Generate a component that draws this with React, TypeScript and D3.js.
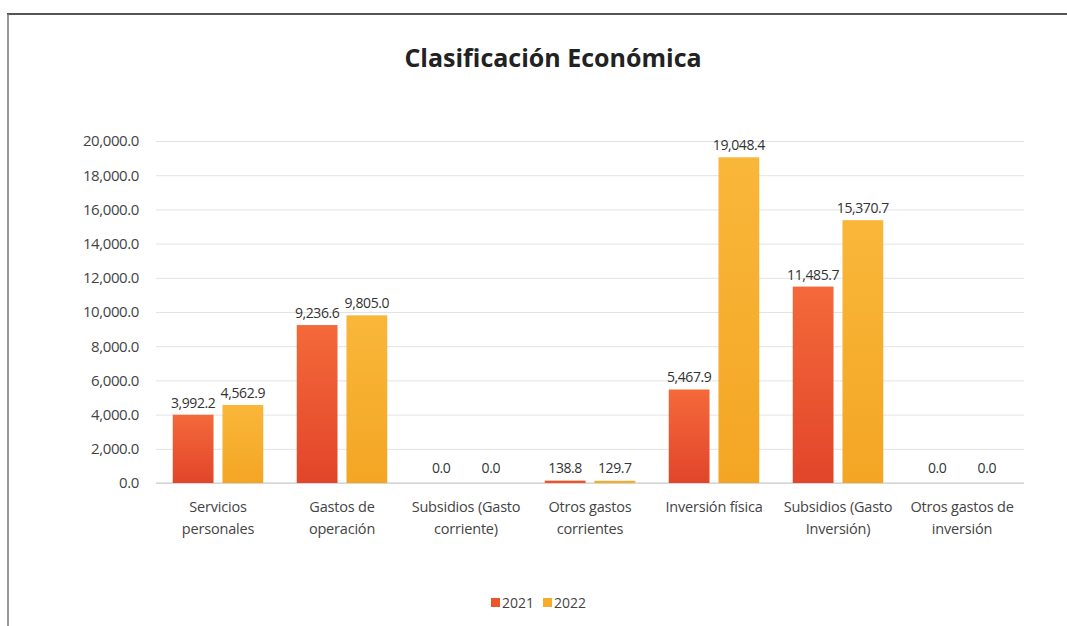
import { useEffect, useRef } from "react";
import * as d3 from "d3";

const WIDTH = 1067;
const HEIGHT = 626;
const MARGIN = { top: 141, right: 43, bottom: 143, left: 156 };
const INNER_W = WIDTH - MARGIN.left - MARGIN.right;
const INNER_H = HEIGHT - MARGIN.top - MARGIN.bottom;

const TITLE = "Clasificación Económica";
const CATEGORIES = [
  ["Servicios", "personales"],
  ["Gastos de", "operación"],
  ["Subsidios (Gasto", "corriente)"],
  ["Otros gastos", "corrientes"],
  ["Inversión física"],
  ["Subsidios (Gasto", "Inversión)"],
  ["Otros gastos de", "inversión"],
];
const SERIES = ["2021", "2022"];
const VALUES_2021 = [3992.2, 9236.6, 0, 138.8, 5467.9, 11485.7, 0];
const VALUES_2022 = [4562.9, 9805.0, 0, 129.7, 19048.4, 15370.7, 0];
const Y_TICKS = [0, 2000, 4000, 6000, 8000, 10000, 12000, 14000, 16000, 18000, 20000];
const COLORS = ["#ec552b", "#f7ad2c"];
const GRADIENTS = [
  ["#f4693a", "#e2452a"],
  ["#f9b73a", "#f4a524"],
];

const FONT = "'Open Sans', 'Noto Sans', sans-serif";

export default function App() {
  const svgRef = useRef<SVGSVGElement>(null);

  useEffect(() => {
    if (!svgRef.current) return;
    const svg = d3.select(svgRef.current);
    svg.selectAll("*").remove();

    const defs = svg.append("defs");
    GRADIENTS.forEach(([top, bottom], i) => {
      const lg = defs.append("linearGradient")
        .attr("id", `bar-grad-${i}`)
        .attr("x1", 0).attr("x2", 0).attr("y1", 0).attr("y2", 1);
      lg.append("stop").attr("offset", "0%").attr("stop-color", top);
      lg.append("stop").attr("offset", "100%").attr("stop-color", bottom);
    });

    svg.append("rect").attr("width", WIDTH).attr("height", HEIGHT).attr("fill", "#fff");

    // frame of the scanned chart
    svg.append("line")
      .attr("x1", 7).attr("x2", WIDTH).attr("y1", 14).attr("y2", 14)
      .attr("stroke", "#555").attr("stroke-width", 2);
    svg.append("line")
      .attr("x1", 8).attr("x2", 8).attr("y1", 14).attr("y2", HEIGHT)
      .attr("stroke", "#777").attr("stroke-width", 1.5);

    svg.append("text")
      .attr("x", 553).attr("y", 67)
      .attr("text-anchor", "middle")
      .attr("font-family", FONT)
      .attr("font-weight", 700)
      .attr("font-size", 25)
      .attr("fill", "#222")
      .text(TITLE);

    const data = CATEGORIES.map((c, i) => ({
      label: c,
      values: [VALUES_2021[i], VALUES_2022[i]],
    }));

    const x0 = d3.scaleBand<number>()
      .domain(d3.range(CATEGORIES.length))
      .range([0, INNER_W])
      .paddingInner(0.27)
      .paddingOuter(0.135);

    const x1 = d3.scaleBand<number>()
      .domain(d3.range(SERIES.length))
      .range([0, x0.bandwidth()])
      .paddingInner(0.18)
      .paddingOuter(0);

    const y = d3.scaleLinear().domain([0, 20000]).range([INNER_H, 0]);

    const g = svg.append("g").attr("transform", `translate(${MARGIN.left},${MARGIN.top})`);

    g.append("g")
      .call(d3.axisLeft(y).tickValues(Y_TICKS).tickSize(-INNER_W).tickFormat((d) => d3.format(",.1f")(d as number)))
      .call((a) => a.select(".domain").remove())
      .call((a) => a.selectAll(".tick line").attr("stroke", "#e3e3e3"))
      .call((a) => a.selectAll(".tick text")
        .attr("x", -17)
        .attr("fill", "#444")
        .attr("font-family", FONT)
        .attr("font-size", 15)
        .attr("letter-spacing", -0.4));

    g.append("line")
      .attr("x1", 0).attr("x2", INNER_W)
      .attr("y1", y(0)).attr("y2", y(0))
      .attr("stroke", "#c8c8c8");

    const grp = g.selectAll(".grp")
      .data(data)
      .join("g")
      .attr("transform", (_, i) => `translate(${x0(i)},0)`);

    grp.selectAll("rect")
      .data((d) => d.values)
      .join("rect")
      .attr("x", (_, j) => x1(j)!)
      .attr("width", x1.bandwidth())
      .attr("y", (v) => y(v))
      .attr("height", (v) => Math.max(INNER_H - y(v), v > 0 ? 1.5 : 0))
      .attr("fill", (v, j) => (INNER_H - y(v) > 10 ? `url(#bar-grad-${j})` : COLORS[j]));

    grp.selectAll("text.val")
      .data((d) => d.values)
      .join("text")
      .attr("class", "val")
      .attr("x", (_, j) => x1(j)! + x1.bandwidth() / 2)
      .attr("y", (v) => Math.min(y(v), INNER_H - 3) - 7)
      .attr("text-anchor", "middle")
      .attr("font-family", FONT)
      .attr("font-size", 14)
      .attr("letter-spacing", -0.4)
      .attr("fill", "#333")
      .text((v) => d3.format(",.1f")(v));

    grp.selectAll("text.cat")
      .data((d) => d.label)
      .join("text")
      .attr("class", "cat")
      .attr("x", x0.bandwidth() / 2)
      .attr("y", (_, k) => INNER_H + 29 + k * 22)
      .attr("text-anchor", "middle")
      .attr("font-family", FONT)
      .attr("font-size", 14.5)
      .attr("letter-spacing", -0.2)
      .attr("fill", "#444")
      .text((t) => t);

    const legend = svg.append("g").attr("transform", "translate(491,608)");
    SERIES.forEach((s, i) => {
      const lg = legend.append("g").attr("transform", `translate(${i * 52},0)`);
      lg.append("rect").attr("x", 0).attr("y", -10).attr("width", 9).attr("height", 9).attr("fill", COLORS[i]);
      lg.append("text")
        .attr("x", 11).attr("y", 0)
        .attr("font-family", FONT)
        .attr("font-size", 14)
        .attr("fill", "#444")
        .text(s);
    });
  }, []);

  return (
    <svg
      ref={svgRef}
      width={WIDTH}
      height={HEIGHT}
      style={{ position: "absolute", left: 0, top: 0 }}
    />
  );
}
